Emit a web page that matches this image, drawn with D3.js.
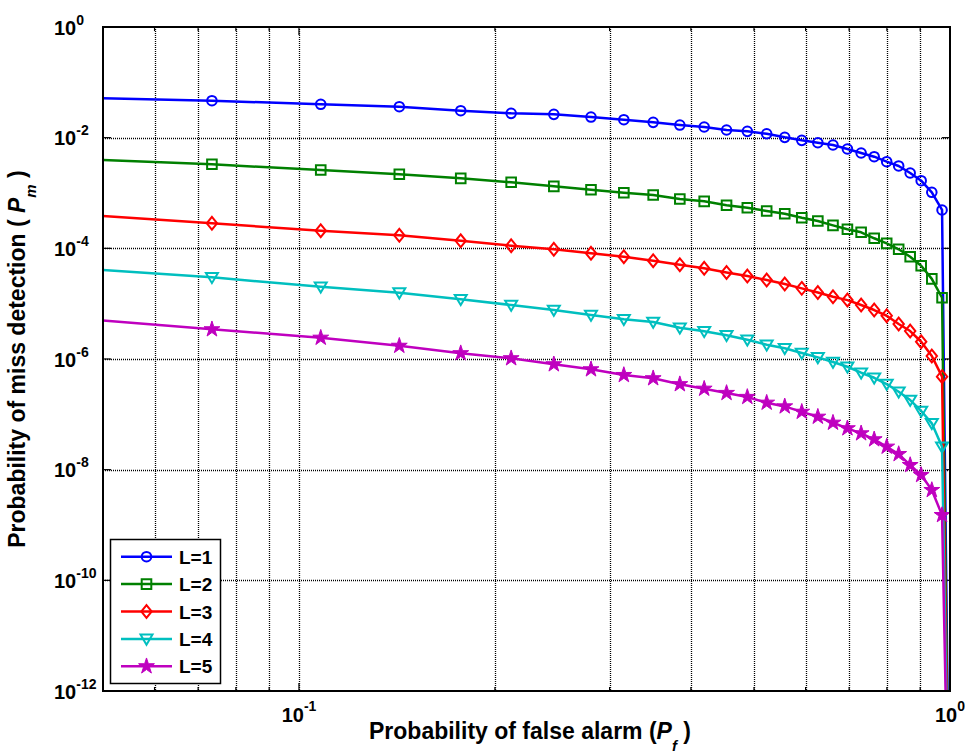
<!DOCTYPE html>
<html>
<head>
<meta charset="utf-8">
<script src="https://cdn.jsdelivr.net/npm/d3@7"></script>
<style>
  html, body { margin: 0; padding: 0; background: #fff; }
  svg { display: block; }
  text { font-family: "Liberation Sans", Arial, sans-serif; font-weight: bold; fill: #000; }
</style>
</head>
<body>
<svg id="chart" width="965" height="753"></svg>
<script>
// ---------------- data ----------------
const pfMarkers = [0.0735, 0.108, 0.1426, 0.1772, 0.2118, 0.2463, 0.2809, 0.3155, 0.35,
  0.3846, 0.4192, 0.4537, 0.4883, 0.5229, 0.5574, 0.592, 0.6266, 0.6611, 0.6957,
  0.7303, 0.7648, 0.7994, 0.834, 0.8686, 0.9031, 0.9377, 0.9723];
const pfStart = 0.039;   // preceding sample (left of the visible range)
const pfEnd = 1.0;       // last sample, curves drop off the bottom

const pmL1 = [4.66e-2, 4.01e-2, 3.63e-2, 3.07e-2, 2.75e-2, 2.64e-2, 2.36e-2, 2.11e-2, 1.89e-2,
  1.69e-2, 1.56e-2, 1.375e-2, 1.30e-2, 1.178e-2, 1.014e-2, 8.95e-3, 8.1e-3, 7.37e-3, 6.24e-3,
  5.28e-3, 4.53e-3, 3.68e-3, 3.08e-3, 2.30e-3, 1.67e-3, 1.03e-3, 4.93e-4];
const pmL2 = [3.30e-3, 2.60e-3, 2.18e-3, 1.84e-3, 1.56e-3, 1.32e-3, 1.146e-3, 1.01e-3, 9.19e-4,
  7.78e-4, 7.07e-4, 5.99e-4, 5.42e-4, 4.73e-4, 4.21e-4, 3.57e-4, 3.12e-4, 2.60e-4, 2.21e-4,
  1.95e-4, 1.52e-4, 1.23e-4, 9.6e-5, 7.06e-5, 4.85e-5, 2.81e-5, 1.28e-5];
const pmL3 = [2.83e-4, 2.08e-4, 1.72e-4, 1.37e-4, 1.115e-4, 9.6e-5, 8.13e-5, 7.05e-5, 5.97e-5,
  5.06e-5, 4.35e-5, 3.66e-5, 3.16e-5, 2.67e-5, 2.26e-5, 1.89e-5, 1.59e-5, 1.33e-5, 1.16e-5,
  9.45e-6, 7.67e-6, 6.05e-6, 4.29e-6, 3.2e-6, 2.05e-6, 1.13e-6, 4.8e-7];
const pmL4 = [2.99e-5, 2.02e-5, 1.58e-5, 1.2e-5, 9.46e-6, 7.68e-6, 6.24e-6, 5.21e-6, 4.66e-6,
  3.66e-6, 3.16e-6, 2.68e-6, 2.23e-6, 1.81e-6, 1.56e-6, 1.28e-6, 1.07e-6, 8.81e-7, 7.24e-7,
  5.65e-7, 4.58e-7, 3.53e-7, 2.56e-7, 1.81e-7, 1.15e-7, 6.88e-8, 2.6e-8];
const pmL5 = [3.44e-6, 2.42e-6, 1.73e-6, 1.27e-6, 1.03e-6, 8.01e-7, 6.5e-7, 5.13e-7, 4.48e-7,
  3.5e-7, 2.9e-7, 2.43e-7, 2.06e-7, 1.62e-7, 1.39e-7, 1.11e-7, 9.04e-8, 7.05e-8, 5.58e-8,
  4.53e-8, 3.53e-8, 2.6e-8, 1.91e-8, 1.21e-8, 8.0e-9, 4.28e-9, 1.51e-9];
const pmStart = [0.055, 4.43e-3, 4.69e-4, 4.95e-5, 6.24e-6];
const pmEnd = [1e-16, 1e-16, 1e-16, 1e-16, 1e-16];

const seriesNames = ["L=1", "L=2", "L=3", "L=4", "L=5"];
const seriesColors = ["#0000ff", "#008000", "#ff0000", "#00bfbf", "#bf00bf"];
const seriesMarkers = ["circle", "square", "diamond", "triangleDown", "star"];
const xTickExps = [-1, 0];
const yTickExps = [0, -2, -4, -6, -8, -10, -12];
const xMinorTicks = [0.06, 0.07, 0.08, 0.09, 0.2, 0.3, 0.4, 0.5, 0.6, 0.7, 0.8, 0.9];
const xTitle = "Probability of false alarm (";
const yTitle = "Probability of miss detection ( ";

// ---------------- layout ----------------
const L = 103, R = 950, T = 27, B = 691;
const svg = d3.select("#chart");
const x = d3.scaleLog().domain([0.05, 1]).range([L, R]);
const y = d3.scaleLog().domain([1e-12, 1]).range([B, T]);

svg.append("rect").attr("width", 965).attr("height", 753).attr("fill", "#fff");

svg.append("defs").append("clipPath").attr("id", "clip")
  .append("rect").attr("x", L).attr("y", T).attr("width", R - L).attr("height", B - T);

// grid
const grid = svg.append("g").attr("stroke", "#000").attr("stroke-width", 1.3)
  .attr("stroke-dasharray", "1,1").attr("fill", "none");
const xGridVals = xMinorTicks.concat([0.1]);
grid.selectAll("line.vx").data(xGridVals).join("line")
  .attr("x1", d => Math.round(x(d)) + 0.5).attr("x2", d => Math.round(x(d)) + 0.5)
  .attr("y1", T).attr("y2", B);
grid.selectAll("line.hy").data(yTickExps.filter(e => e < 0 && e > -12)).join("line")
  .attr("y1", e => Math.round(y(Math.pow(10, e))) + 0.5).attr("y2", e => Math.round(y(Math.pow(10, e))) + 0.5)
  .attr("x1", L).attr("x2", R);

// ticks (inward, all four sides)
const ticks = svg.append("g").attr("stroke", "#000").attr("stroke-width", 1.2);
const xMajorVals = xTickExps.map(e => Math.pow(10, e));
[[xMajorVals, 8], [xMinorTicks, 4]].forEach(([vals, len]) => {
  vals.forEach(v => {
    const px = x(v);
    ticks.append("line").attr("x1", px).attr("x2", px).attr("y1", B).attr("y2", B - len);
    ticks.append("line").attr("x1", px).attr("x2", px).attr("y1", T).attr("y2", T + len);
  });
});
yTickExps.forEach(e => {
  const py = y(Math.pow(10, e));
  ticks.append("line").attr("x1", L).attr("x2", L + 8).attr("y1", py).attr("y2", py);
  ticks.append("line").attr("x1", R).attr("x2", R - 8).attr("y1", py).attr("y2", py);
});

// series
const allPm = [pmL1, pmL2, pmL3, pmL4, pmL5];
const symbolPath = {
  circle: d3.symbol(d3.symbolCircle, Math.PI * 4.8 * 4.8)(),
  square: "M-4.8,-4.8H4.8V4.8H-4.8Z",
  diamond: "M0,-6.4L5.2,0L0,6.4L-5.2,0Z",
  triangleDown: "M-6,-4.3L6,-4.3L0,5.8Z",
  star: d3.symbol(d3.symbolStar, 78)()
};
const line = d3.line().x(d => x(d[0])).y(d => y(d[1]));
const plot = svg.append("g").attr("clip-path", "url(#clip)");

allPm.forEach((pm, i) => {
  const pts = [[pfStart, pmStart[i]]].concat(pfMarkers.map((p, k) => [p, pm[k]])).concat([[pfEnd, pmEnd[i]]]);
  const g = plot.append("g");
  g.append("path").attr("d", line(pts)).attr("fill", "none")
    .attr("stroke", seriesColors[i]).attr("stroke-width", 2.5).attr("stroke-linejoin", "round");
  const isStar = seriesMarkers[i] === "star";
  g.selectAll("path.m").data(pfMarkers.map((p, k) => [p, pm[k]])).join("path")
    .attr("class", "m")
    .attr("transform", d => `translate(${x(d[0])},${y(d[1])})`)
    .attr("d", symbolPath[seriesMarkers[i]])
    .attr("fill", isStar ? seriesColors[i] : "none")
    .attr("stroke", seriesColors[i]).attr("stroke-width", isStar ? 1 : 2);
});

// box
svg.append("rect").attr("x", L).attr("y", T).attr("width", R - L).attr("height", B - T)
  .attr("fill", "none").attr("stroke", "#000").attr("stroke-width", 2);

// tick labels
xTickExps.forEach(e => {
  const t = svg.append("text").attr("x", x(Math.pow(10, e))).attr("y", 722)
    .attr("text-anchor", "middle").attr("font-size", 20);
  t.append("tspan").text("10");
  t.append("tspan").attr("font-size", 14).attr("dy", -11).text(String(e));
});
yTickExps.forEach(e => {
  const py = y(Math.pow(10, e));
  const t = svg.append("text").attr("x", 54).attr("y", py + 7.5).attr("font-size", 20);
  t.append("tspan").text("10");
  t.append("tspan").attr("font-size", 14).attr("dy", -10).text(String(e));
});

// axis titles
const xt = svg.append("text").attr("x", 530).attr("y", 739).attr("text-anchor", "middle").attr("font-size", 23);
xt.append("tspan").text(xTitle);
xt.append("tspan").attr("font-style", "italic").text("P");
xt.append("tspan").attr("font-style", "italic").attr("font-size", 15).attr("dy", 12).text("f");
xt.append("tspan").attr("dy", -12).text(" )");

const yt = svg.append("text").attr("transform", `translate(25,${(T + B) / 2}) rotate(-90)`)
  .attr("text-anchor", "middle").attr("font-size", 23);
yt.append("tspan").text(yTitle);
yt.append("tspan").attr("font-style", "italic").text("P");
yt.append("tspan").attr("font-style", "italic").attr("font-size", 15).attr("dy", 11).text("m");
yt.append("tspan").attr("dy", -11).text(" )");

// legend
const lg = svg.append("g");
lg.append("rect").attr("x", 110.5).attr("y", 539.5).attr("width", 110).attr("height", 144)
  .attr("fill", "#fff").attr("stroke", "#000").attr("stroke-width", 1.5);
seriesNames.forEach((name, i) => {
  const cy = 556.7 + i * 27.4;
  lg.append("line").attr("x1", 121).attr("x2", 172).attr("y1", cy).attr("y2", cy)
    .attr("stroke", seriesColors[i]).attr("stroke-width", 2.5);
  const isStar = seriesMarkers[i] === "star";
  lg.append("path").attr("transform", `translate(146.5,${cy})`).attr("d", symbolPath[seriesMarkers[i]])
    .attr("fill", isStar ? seriesColors[i] : "none").attr("stroke", seriesColors[i])
    .attr("stroke-width", isStar ? 1 : 2);
  lg.append("text").attr("x", 179).attr("y", cy + 7).attr("font-size", 19).text(name);
});
</script>
</body>
</html>
